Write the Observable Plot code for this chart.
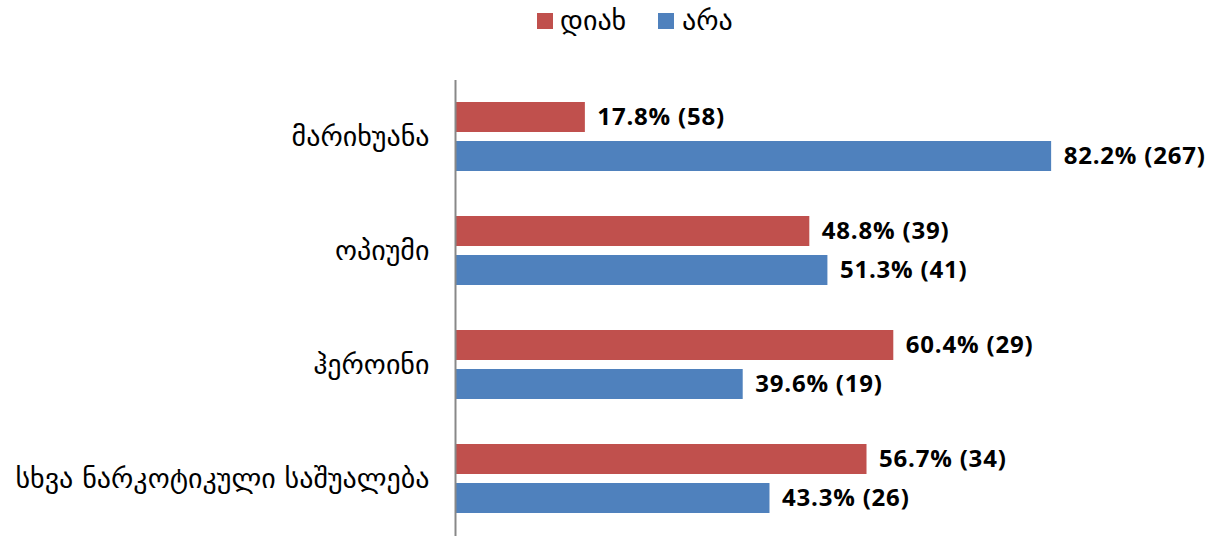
<!DOCTYPE html>
<html>
<head>
<meta charset="utf-8">
<script src="https://cdn.jsdelivr.net/npm/d3@7"></script>
<script src="https://cdn.jsdelivr.net/npm/@observablehq/plot@0.6"></script>
<style>
  body { margin: 0; background: #fff; }
  #wrap { position: relative; width: 1217px; height: 537px; }
  #legend { position: relative; height: 50px; font-family: "DejaVu Sans", sans-serif; font-size: 28px; color: #000; }
  .sw { position: absolute; top: 13px; width: 16px; height: 16px; }
  .lt { position: absolute; top: 6px; line-height: 30px; }
  svg { display: block; }
  g[aria-label="text"] text { letter-spacing: 0.8px; }
</style>
</head>
<body>
<div id="wrap">
  <div id="legend"></div>
  <div id="chart"></div>
</div>
<script>
const categories = ["მარიხუანა", "ოპიუმი", "ჰეროინი", "სხვა ნარკოტიკული საშუალება"];
const series = ["დიახ", "არა"];
const colors = ["#C0504D", "#4F81BD"];
const yesPct = [17.8, 48.8, 60.4, 56.7];
const yesN = [58, 39, 29, 34];
const noPct = [82.2, 51.3, 39.6, 43.3];
const noN = [267, 41, 19, 26];

const rows = [];
categories.forEach((c, i) => {
  rows.push({category: c, series: series[0], pct: yesPct[i], n: yesN[i]});
  rows.push({category: c, series: series[1], pct: noPct[i], n: noN[i]});
});

// legend
const legend = document.getElementById("legend");
const legendPos = [{sw: 537, tx: 560}, {sw: 658, tx: 682}];
series.forEach((s, i) => {
  const sw = document.createElement("div");
  sw.className = "sw";
  sw.style.left = legendPos[i].sw + "px";
  sw.style.background = colors[i];
  legend.appendChild(sw);
  const t = document.createElement("div");
  t.className = "lt";
  t.style.left = legendPos[i].tx + "px";
  t.textContent = s;
  legend.appendChild(t);
});

const chart = Plot.plot({
  width: 1217,
  height: 487,
  marginLeft: 456,
  marginRight: 37,
  marginTop: 28,
  marginBottom: 0,
  style: {fontFamily: "DejaVu Sans, sans-serif", fontSize: "28px", color: "#000", background: "#fff"},
  facet: {data: rows, y: "category"},
  fy: {domain: categories, padding: 0, label: null, tickSize: 0, tickPadding: 27},
  y: {domain: series, axis: null, paddingInner: 0.225, paddingOuter: 0.55},
  x: {domain: [0, 100], axis: null},
  color: {domain: series, range: colors},
  marks: [
    Plot.barX(rows, {x: "pct", y: "series", fill: "series"}),
    Plot.text(rows, {
      x: "pct", y: "series",
      text: d => `${d.pct.toFixed(1)}% (${d.n})`,
      textAnchor: "start", dx: 12,
      fontFamily: "Open Sans, sans-serif", fontWeight: "bold", fontSize: 24, fill: "#000"
    }),
    Plot.ruleX([0], {stroke: "#888", strokeWidth: 2, dx: -1})
  ]
});
document.getElementById("chart").appendChild(chart);
</script>
</body>
</html>
